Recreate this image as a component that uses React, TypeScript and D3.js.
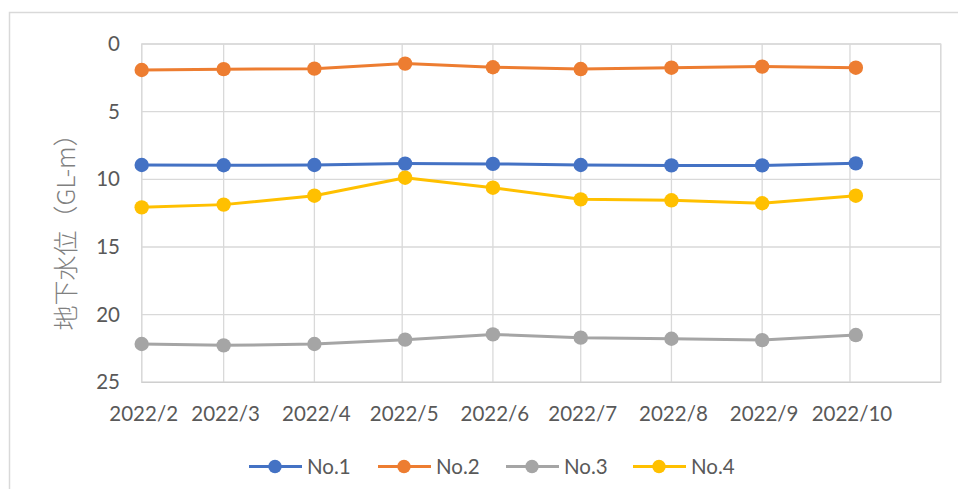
import React from "react";
import * as d3 from "d3";

const dates: string[] = ["2022-02-01", "2022-03-01", "2022-04-01", "2022-05-02", "2022-06-01", "2022-07-01", "2022-08-01", "2022-09-01", "2022-10-03"];
const no1: number[] = [8.94, 8.96, 8.94, 8.84, 8.86, 8.94, 8.97, 8.97, 8.82];
const no2: number[] = [1.92, 1.86, 1.82, 1.45, 1.72, 1.85, 1.75, 1.67, 1.75];
const no3: number[] = [22.17, 22.27, 22.17, 21.85, 21.46, 21.7, 21.78, 21.88, 21.51];
const no4: number[] = [12.07, 11.87, 11.21, 9.88, 10.62, 11.48, 11.55, 11.77, 11.21];
const seriesNames: string[] = ["No.1", "No.2", "No.3", "No.4"];
const colors: string[] = ["#4472C4", "#ED7D31", "#A5A5A5", "#FFC000"];
const yTicks: number[] = [0, 5, 10, 15, 20, 25];
const monthTicks: string[] = ["2022-02-01", "2022-03-01", "2022-04-01", "2022-05-01", "2022-06-01", "2022-07-01", "2022-08-01", "2022-09-01", "2022-10-01", "2022-11-01"];
const labeledMonths: string[] = ["2022/2", "2022/3", "2022/4", "2022/5", "2022/6", "2022/7", "2022/8", "2022/9", "2022/10"];
const yTitle = "地下水位（GL-m）";

const W = 958, H = 489;
const plot = { left: 141.7, top: 44, right: 940.7, bottom: 382.3 };
const parse = d3.utcParse("%Y-%m-%d");

export default function App() {
  const x = d3.scaleUtc()
    .domain([parse("2022-02-01")!, parse("2022-11-01")!])
    .range([plot.left, plot.right]);
  const y = d3.scaleLinear().domain([0, 25]).range([plot.top, plot.bottom]);
  const all = [no1, no2, no3, no4];
  const line = d3.line<[Date, number]>().x(d => x(d[0])).y(d => y(d[1]));
  const font = "Lato, 'Noto Sans', sans-serif";
  const tickColor = "#595959";
  const grid = "#D9D9D9";
  const legendX = [249, 378, 506, 633];
  const fs = 20.5;

  return (
    <svg width={W} height={H} style={{ position: "absolute", left: 0, top: 0, background: "#fff" }}>
      <rect x={0} y={0} width={W} height={H} fill="#fff" />
      <path d={`M9.5,${H + 5} V12.5 H${W + 5}`} fill="none" stroke="#D9D9D9" strokeWidth={1.5} />
      {yTicks.map(t => (
        <line key={"gy" + t} x1={plot.left} x2={plot.right} y1={y(t)} y2={y(t)} stroke={grid} strokeWidth={1.3} />
      ))}
      {monthTicks.map(m => {
        const xv = x(parse(m)!);
        return <line key={"gx" + m} x1={xv} x2={xv} y1={plot.top} y2={plot.bottom} stroke={grid} strokeWidth={1.3} />;
      })}
      <rect x={plot.left} y={plot.top} width={plot.right - plot.left} height={plot.bottom - plot.top} fill="none" stroke={grid} strokeWidth={1.3} />
      <line x1={plot.left} x2={plot.right} y1={plot.bottom} y2={plot.bottom} stroke="#CFCFCF" strokeWidth={1.3} />
      {yTicks.map(t => (
        <text key={"ty" + t} x={120} y={y(t)} dy="0.35em" textAnchor="end" fontFamily={font} fontSize={fs} fill={tickColor}>{t}</text>
      ))}
      {labeledMonths.map((lab, i) => (
        <text key={"tx" + i} x={x(parse(monthTicks[i])!) + 2} y={414} dy="0.35em" textAnchor="middle" fontFamily={font} fontSize={fs} fill={tickColor}>{lab}</text>
      ))}
      <text transform={`translate(66,226) rotate(-90)`} textAnchor="middle" dy="0.35em"
        fontFamily="'Noto Sans CJK JP', Lato, sans-serif" fontSize={25} fill="#808080" fontWeight={300}>{yTitle}</text>
      {all.map((vals, si) => {
        const pts: [Date, number][] = vals.map((v, i) => [parse(dates[i])!, v]);
        return (
          <g key={"s" + si}>
            <path d={line(pts) || ""} fill="none" stroke={colors[si]} strokeWidth={3} strokeLinejoin="round" />
            {pts.map((p, i) => (
              <circle key={i} cx={x(p[0])} cy={y(p[1])} r={7.2} fill={colors[si]} />
            ))}
          </g>
        );
      })}
      {seriesNames.map((n, i) => (
        <g key={"lg" + n}>
          <line x1={legendX[i]} x2={legendX[i] + 53} y1={466.5} y2={466.5} stroke={colors[i]} strokeWidth={3} />
          <circle cx={legendX[i] + 26} cy={466.5} r={6.7} fill={colors[i]} />
          <text x={legendX[i] + 58} y={466.5} dy="0.35em" fontFamily={font} fontSize={fs} fill={tickColor}>{n}</text>
        </g>
      ))}
    </svg>
  );
}
